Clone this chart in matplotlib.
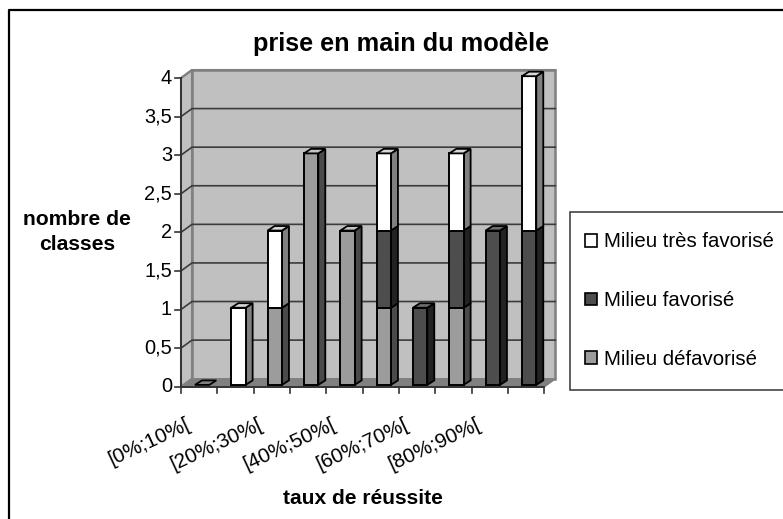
import matplotlib
matplotlib.use("Agg")
import matplotlib.pyplot as plt
from matplotlib.lines import Line2D
from matplotlib.patches import Polygon, Rectangle

plt.rcParams['font.family'] = ['Liberation Sans', 'DejaVu Sans']

W, H = 783, 519
tick_labels = ["[0%;10%[", "[20%;30%[", "[40%;50%[", "[60%;70%[", "[80%;90%["]
yticks = [0, 0.5, 1, 1.5, 2, 2.5, 3, 3.5, 4]
ytick_labels = ["0", "0,5", "1", "1,5", "2", "2,5", "3", "3,5", "4"]
defavorise = [0, 0, 1, 3, 2, 1, 0, 1, 0, 0]
favorise = [0, 0, 0, 0, 0, 1, 1, 1, 2, 2]
tres_favorise = [0, 1, 1, 0, 0, 1, 0, 1, 0, 2]
series = [
    ("Milieu défavorisé", defavorise, "#9c9c9c", "#4a4a4a", "#c4c4c4"),
    ("Milieu favorisé", favorise, "#4d4d4d", "#222222", "#6e6e6e"),
    ("Milieu très favorisé", tres_favorise, "#ffffff", "#808080", "#d8d8d8"),
]

fig = plt.figure(figsize=(W / 100, H / 100), dpi=100, facecolor="white")
L, R, T, B = 181, 544.3, 78, 386.7
ax = fig.add_axes([L / W, 1 - B / H, (R - L) / W, (B - T) / H])
ax.set_xlim(0, 10)
ax.set_ylim(0, 4)
ax.axis("off")

px = 10 / (R - L)
py = 4 / (B - T)
WDX, WDY = 11 * px, 8 * py
BDX, BDY = 7 * px, 4.5 * py
BAR_L, BAR_W = 14 * px, 14.3 * px
BAR_Y = 1.8 * py
GRID = "#3c3c3c"
WALL = "#c0c0c0"
EDGE = "#808080"

# walls and floor
ax.add_patch(Polygon([(WDX, WDY), (10 + WDX, WDY), (10 + WDX, 4 + WDY), (WDX, 4 + WDY)],
                     fc=WALL, ec=EDGE, lw=1.8, clip_on=False, zorder=1))
ax.add_patch(Polygon([(0, 0), (WDX, WDY), (WDX, 4 + WDY), (0, 4)],
                     fc=WALL, ec=EDGE, lw=1.5, clip_on=False, zorder=1))
ax.add_patch(Polygon([(0, 0), (10, 0), (10 + WDX, WDY), (WDX, WDY)],
                     fc=EDGE, ec=EDGE, lw=1, clip_on=False, zorder=1.2))
for v in yticks[1:-1]:
    ax.plot([0, WDX, 10 + WDX], [v, v + WDY, v + WDY], color=GRID, lw=1.2, clip_on=False, zorder=1.5)
ax.plot([0, WDX, 10 + WDX], [4, 4 + WDY, 4 + WDY], color=EDGE, lw=1.5, clip_on=False, zorder=1.5)

# front axes
ax.plot([0, 0], [0, 4], color="#333333", lw=1.4, clip_on=False, zorder=2)
ax.plot([0, 10], [0, 0], color="#333333", lw=1.4, clip_on=False, zorder=2)
ax.plot([10, 10 + WDX], [0, WDY], color=EDGE, lw=1, clip_on=False, zorder=2)
for v, lab in zip(yticks, ytick_labels):
    ax.plot([-6 * px, 0], [v, v], color="#333333", lw=1.2, clip_on=False, zorder=2)
    ax.annotate(lab, xy=(0, v), xytext=(-6.5, 0), textcoords="offset points",
                ha="right", va="center", fontsize=14.4, color="black")
for k in range(11):
    ax.plot([k, k], [0, -6 * py], color="#333333", lw=1.2, clip_on=False, zorder=2)
for k, lab in enumerate(tick_labels):
    ax.annotate(lab, xy=(2 * k, 0), xytext=(3, -20), textcoords="offset points",
                ha="right", va="top", rotation=25, rotation_mode="anchor",
                fontsize=14.8, color="black")

# bars
for c in range(10):
    x0 = c + BAR_L
    x1 = x0 + BAR_W
    base = 0
    top_col = "#808080"
    for name, vals, fc, side, top in series:
        h = vals[c]
        if h <= 0:
            continue
        ax.add_patch(Polygon([(x1, base + BAR_Y), (x1 + BDX, base + BAR_Y + BDY),
                              (x1 + BDX, base + h + BAR_Y + BDY), (x1, base + h + BAR_Y)],
                             fc=side, ec="black", lw=1.3, clip_on=False, zorder=3 + c))
        ax.bar(x0, h, BAR_W, bottom=base + BAR_Y, align="edge", color=fc, edgecolor="black",
               lw=1.4, clip_on=False, zorder=3 + c)
        base += h
        top_col = top
    ax.add_patch(Polygon([(x0, base + BAR_Y), (x1, base + BAR_Y),
                          (x1 + BDX, base + BAR_Y + BDY), (x0 + BDX, base + BAR_Y + BDY)],
                         fc=top_col, ec="black", lw=1.3, clip_on=False, zorder=3 + c))

# legend box runs off the right edge of the picture
fig.add_artist(Rectangle((570 / W, 1 - 390 / H), 230 / W, 178 / H, fc="white", ec="#444444",
                         lw=1.2, transform=fig.transFigure))
hs = [plt.Rectangle((0, 0), 1, 1, fc=s[2], ec="black", lw=1.2) for s in reversed(series)]
labels = [s[0] for s in reversed(series)]
leg = fig.legend(hs, labels, loc="lower left", bbox_to_anchor=(585 / W, 1 - 369 / H),
                 bbox_transform=fig.transFigure, borderaxespad=0, fontsize=14.7,
                 frameon=False, labelspacing=1.95, handlelength=0.6, handleheight=0.6,
                 handletextpad=0.35, borderpad=0)
leg.set_zorder(5)

# titles
fig.text(401 / W, 1 - 44 / H, "prise en main du modèle", ha="center", va="center",
         fontsize=18.2, fontweight="bold")
fig.text(77 / W, 1 - 232 / H, "nombre de\nclasses", ha="center", va="center",
         fontsize=15.2, fontweight="bold", linespacing=1.37)
fig.text(362.5 / W, 1 - 499 / H, "taux de réussite", ha="center", va="center",
         fontsize=15.1, fontweight="bold")

# outer frame
fig.add_artist(Line2D([8.5 / W, 8.5 / W, 1], [0, 1 - 10 / H, 1 - 10 / H], color="black", lw=1.6,
                      transform=fig.transFigure))

fig.savefig("out.png", dpi=100)
